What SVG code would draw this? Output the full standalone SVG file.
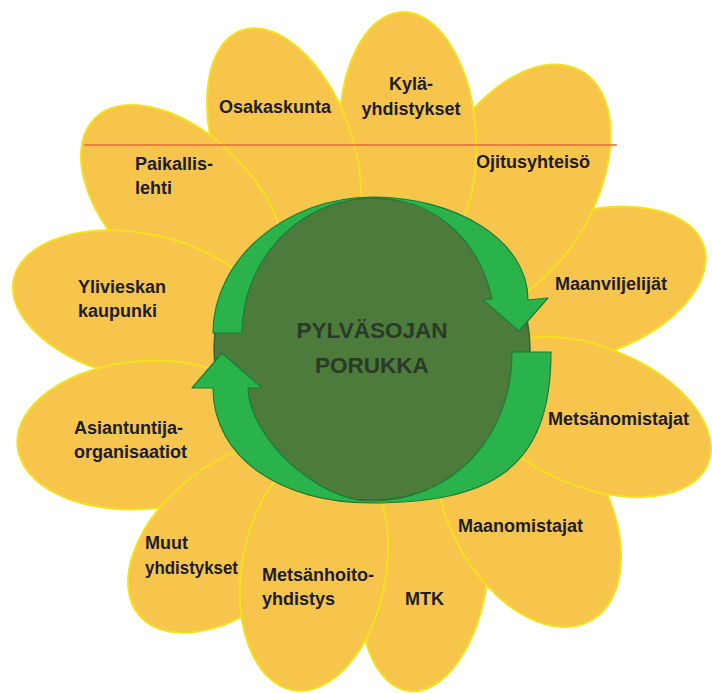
<svg xmlns="http://www.w3.org/2000/svg" width="712" height="693" viewBox="0 0 712 693">
<style>
.petal{fill:#f8c54c;stroke:#f3e11f;stroke-width:2}
.lbl{font-family:"Liberation Sans",Arial,sans-serif;font-weight:bold;font-size:18px;fill:#1d1d22}
.hubtxt{font-family:"Liberation Sans",Arial,sans-serif;font-weight:bold;font-size:22.5px;fill:#2a3a28;text-anchor:middle}
.disc{fill:#4c7b3b;stroke:#3a6430;stroke-width:1.5}
.arrow{fill:#2bb34b;stroke:#1b7d37;stroke-width:1.2;stroke-linejoin:round}
</style>
<rect width="712" height="693" fill="#ffffff"/>
<g id="n-maanviljelijat"><ellipse class="petal" cx="580" cy="286" rx="72" ry="130" transform="rotate(72 580 286)"/><text class="lbl" x="555" y="290">Maanviljelijät</text></g>
<g id="n-ojitusyhteiso"><ellipse class="petal" cx="514" cy="188" rx="80" ry="135" transform="rotate(30 514 188)"/><text class="lbl" x="476" y="168">Ojitusyhteisö</text></g>
<g id="n-kylayhdistykset"><ellipse class="petal" cx="408" cy="138" rx="68" ry="126" transform="rotate(-3 408 138)"/><text class="lbl" x="411" y="90" text-anchor="middle">Kylä-</text><text class="lbl" x="411" y="115" text-anchor="middle">yhdistykset</text></g>
<g id="n-osakaskunta"><ellipse class="petal" cx="284" cy="148" rx="68" ry="125" transform="rotate(-20 284 148)"/><text class="lbl" x="219" y="113">Osakaskunta</text></g>
<g id="n-paikallislehti"><ellipse class="petal" cx="183" cy="207" rx="72" ry="125" transform="rotate(-45 183 207)"/><text class="lbl" x="135" y="170">Paikallis-</text><text class="lbl" x="135" y="194">lehti</text></g>
<g id="n-ylivieskan"><ellipse class="petal" cx="141" cy="306" rx="72" ry="130" transform="rotate(-78 141 306)"/><text class="lbl" x="78" y="293">Ylivieskan</text><text class="lbl" x="78" y="317">kaupunki</text></g>
<g id="n-asiantuntija"><ellipse class="petal" cx="143" cy="435" rx="74" ry="126" transform="rotate(-95 143 435)"/><text class="lbl" x="74" y="434">Asiantuntija-</text><text class="lbl" x="74" y="458">organisaatiot</text></g>
<g id="n-muut"><ellipse class="petal" cx="231" cy="538" rx="72" ry="120" transform="rotate(-130 231 538)"/><text class="lbl" x="145" y="549">Muut</text><text class="lbl" x="145" y="574" textLength="93" lengthAdjust="spacingAndGlyphs">yhdistykset</text></g>
<g id="n-mtk"><ellipse class="petal" cx="424" cy="570" rx="64" ry="122" transform="rotate(-173 424 570)"/><text class="lbl" x="405" y="605">MTK</text></g>
<g id="n-metsanhoito"><ellipse class="petal" cx="314" cy="570" rx="72" ry="122" transform="rotate(-170 314 570)"/><text class="lbl" x="262" y="581">Metsänhoito-</text><text class="lbl" x="262" y="605">yhdistys</text></g>
<g id="n-maanomistajat"><ellipse class="petal" cx="529" cy="512" rx="78" ry="125" transform="rotate(150 529 512)"/><text class="lbl" x="458" y="532">Maanomistajat</text></g>
<g id="n-metsanomistajat"><ellipse class="petal" cx="592" cy="417" rx="70" ry="125" transform="rotate(112 592 417)"/><text class="lbl" x="548" y="425">Metsänomistajat</text></g>
<g id="divider"><line x1="84" y1="145" x2="617" y2="145" stroke="#e8683a" stroke-width="1.5"/></g>
<g id="n-hub"><ellipse class="disc" cx="372" cy="349" rx="158" ry="151"/><text class="hubtxt" x="372" y="338">PYLVÄSOJAN</text><text class="hubtxt" x="372" y="373">PORUKKA</text></g>
<g id="connectors">
<path class="arrow" d="M213,333 C213,260 285,197 373,197 C455,197 528,240 528,300 L548,298 L519,331 L483,300 L492,299 C478,235 430,198 373,198 C300,198 242,260 242,333 Z"/>
<path class="arrow" d="M551,352 C551,470 490,503 370,503 C285,503 213,460 213,388 L192,388 L222,353 L262,388 L248,388 C250,440 320,501 370,501 C450,501 512,440 512,352 Z"/>
</g>
</svg>
